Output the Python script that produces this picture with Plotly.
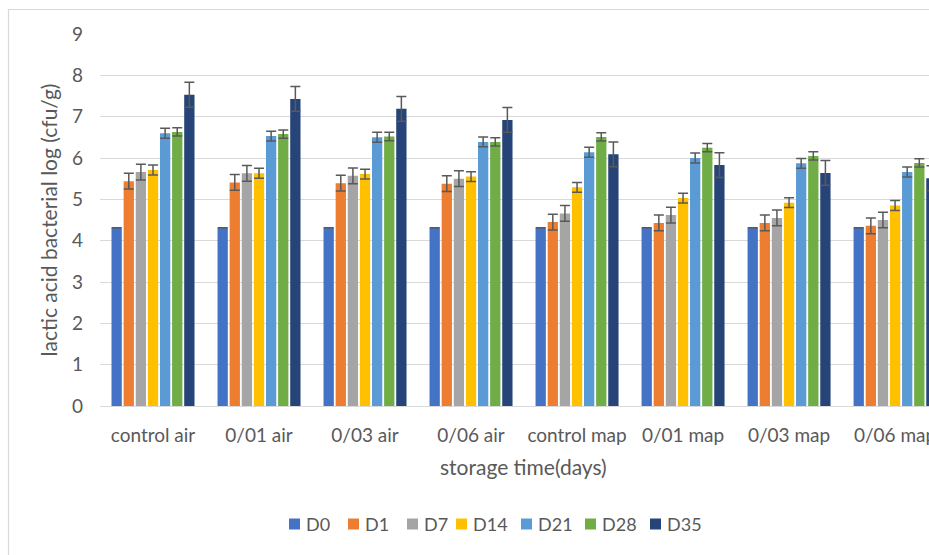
import plotly.graph_objects as go

categories = ["control air", "0/01 air", "0/03 air", "0/06 air",
              "control map", "0/01 map", "0/03 map", "0/06 map"]
series_names = ["D0", "D1", "D7", "D14", "D21", "D28", "D35"]

d0 = [4.31, 4.31, 4.31, 4.31, 4.31, 4.31, 4.31, 4.31]
d1 = [5.44, 5.41, 5.39, 5.38, 4.45, 4.43, 4.43, 4.36]
d7 = [5.66, 5.63, 5.57, 5.50, 4.66, 4.62, 4.55, 4.50]
d14 = [5.71, 5.63, 5.61, 5.55, 5.29, 5.03, 4.92, 4.85]
d21 = [6.60, 6.53, 6.50, 6.39, 6.14, 6.00, 5.87, 5.66]
d28 = [6.63, 6.58, 6.52, 6.39, 6.51, 6.25, 6.05, 5.88]
d35 = [7.53, 7.43, 7.19, 6.92, 6.09, 5.83, 5.64, 5.51]

e0 = [0, 0, 0, 0, 0, 0, 0, 0]
e1 = [0.19, 0.19, 0.19, 0.19, 0.19, 0.19, 0.19, 0.19]
e7 = [0.19, 0.19, 0.19, 0.19, 0.19, 0.19, 0.19, 0.19]
e14 = [0.12, 0.12, 0.12, 0.12, 0.12, 0.12, 0.12, 0.12]
e21 = [0.12, 0.12, 0.12, 0.12, 0.12, 0.12, 0.12, 0.12]
e28 = [0.10, 0.10, 0.10, 0.10, 0.10, 0.10, 0.10, 0.10]
e35 = [0.30, 0.30, 0.30, 0.30, 0.30, 0.30, 0.30, 0.30]

values = [d0, d1, d7, d14, d21, d28, d35]
errors = [e0, e1, e7, e14, e21, e28, e35]
colors = ["#4472C4", "#ED7D31", "#A5A5A5", "#FFC000", "#5B9BD5", "#70AD47", "#264478"]

FONT = "Lato, 'Open Sans', sans-serif"
GRAY = "#595959"

fig = go.Figure()
for name, vals, errs, col in zip(series_names, values, errors, colors):
    fig.add_trace(go.Bar(
        name=name, x=categories, y=vals, marker_color=col,
        marker_line_width=0, showlegend=False,
        error_y=dict(type="data", array=errs, visible=True,
                     color=GRAY, thickness=1.5, width=5),
    ))

W, H = 929, 555
L, T = 100, 34
PH = 372                # pixels for 0..9
B = H - T - PH
PW = W - L
BOTTOM = T + PH         # y pixel of value 0


def px_x(x):
    return (x - L) / PW


def px_y(y):
    return (BOTTOM - y) / PH


# custom legend (square + label), left edges of squares in pixels
legend_x = [289, 348, 407, 456, 521, 585, 650]
legend_y = 524
SQ = 11
shapes = [dict(type="rect", xref="paper", yref="paper",
               x0=px_x(8.5), x1=1.1, y0=-0.6, y1=px_y(9.5),
               line=dict(color="#d9d9d9", width=1.2), layer="below")]
annotations = [dict(text="storage time(days)", xref="paper", yref="paper",
                    x=px_x(523), y=px_y(466),
                    xanchor="center", yanchor="middle", showarrow=False,
                    font=dict(size=21, color=GRAY))]
for name, col, lx in zip(series_names, colors, legend_x):
    shapes.append(dict(type="rect", xref="paper", yref="paper",
                       x0=px_x(lx), x1=px_x(lx + SQ),
                       y0=px_y(legend_y + SQ / 2), y1=px_y(legend_y - SQ / 2),
                       fillcolor=col, line=dict(width=0)))
    annotations.append(dict(text=name, xref="paper", yref="paper",
                            x=px_x(lx + SQ + 4), y=px_y(legend_y),
                            xanchor="left", yanchor="middle", showarrow=False,
                            font=dict(size=18, color=GRAY)))

fig.update_layout(
    template="none",
    width=W, height=H,
    margin=dict(l=L, r=0, t=T, b=B, pad=0),
    paper_bgcolor="white", plot_bgcolor="white",
    barmode="group", bargap=0.2, bargroupgap=0.15,
    font=dict(family=FONT, color=GRAY, size=19),
    showlegend=False,
    xaxis=dict(type="category", range=[-0.5, 7.32], automargin=False,
               showline=True, linecolor="#d9d9d9", linewidth=1,
               showgrid=False, ticks="", ticklabelstandoff=12,
               tickfont=dict(size=19, color=GRAY)),
    yaxis=dict(range=[0, 9], dtick=1, showgrid=True, gridcolor="#d9d9d9",
               gridwidth=1, zeroline=False, showline=False, ticks="",
               automargin=False,
               ticklabelstandoff=16, tickfont=dict(size=19, color=GRAY),
               title=dict(text="lactic acid bacterial log (cfu/g)",
                          font=dict(size=21, color=GRAY), standoff=8)),
    annotations=annotations,
    shapes=shapes,
)

fig.write_html(
    "out.html",
    config={"displayModeBar": False},
    post_script="document.body.style.margin='0';"
                "document.documentElement.style.overflow='hidden';",
)
